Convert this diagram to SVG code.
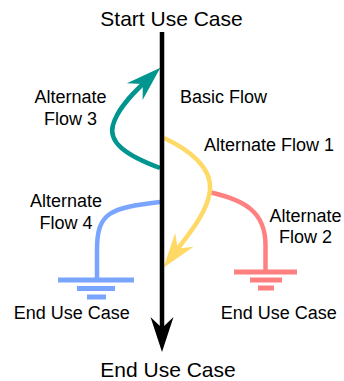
<svg xmlns="http://www.w3.org/2000/svg" width="344" height="381" viewBox="0 0 344 381">
<style>
text{font-family:"Liberation Sans",Arial,sans-serif;fill:#000}
.big{font-size:21px}
.sm{font-size:18px}
.c{fill:none;stroke-width:4.5}
</style>
<defs>
<marker id="ak" markerUnits="userSpaceOnUse" orient="auto" refX="0" refY="0" overflow="visible"><path d="M21,0 L-14,-11.5 L-3,0 L-14,11.5 Z" fill="#000"/></marker>
<marker id="at" markerUnits="userSpaceOnUse" orient="auto" refX="0" refY="0" overflow="visible"><path d="M21,0 L-14,-11.5 L-3,0 L-14,11.5 Z" fill="#00968F"/></marker>
<marker id="ay" markerUnits="userSpaceOnUse" orient="auto" refX="0" refY="0" overflow="visible"><path d="M21,0 L-14,-11.5 L-3,0 L-14,11.5 Z" fill="#FFD966"/></marker>
</defs>
<rect width="344" height="381" fill="#fff"/>
<g id="connectors">
<path class="c" stroke="#7AA5FF" d="M160,202 C 110,208 97,212 97,250 L97,280"/>
<path class="c" stroke="#FF8080" d="M209,192 C 245,200 265.5,212 265.5,245 L265.5,272"/>
<path class="c" stroke="#00968F" d="M160,168 C 125,155 108,142 113,125 C 117,110 130,96 145,82" marker-end="url(#at)"/>
<path class="c" stroke="#FFD966" d="M164,138 C 190,150 212,168 210,190 C 208,212 188,235 176,251" marker-end="url(#ay)"/>
<path class="c" stroke="#000" d="M162,32 L162,331" marker-end="url(#ak)"/>
</g>
<g id="start"><text class="big" x="171.5" y="25.5" text-anchor="middle">Start Use Case</text></g>
<g id="end"><text class="big" x="168" y="377" text-anchor="middle">End Use Case</text></g>
<g id="basic-label"><text class="sm" x="180" y="103">Basic Flow</text></g>
<g id="alt1-label"><text class="sm" x="204" y="151">Alternate Flow 1</text></g>
<g id="alt2-label"><text class="sm" text-anchor="middle"><tspan x="305.5" y="221.5">Alternate</tspan><tspan x="305.5" y="243.3">Flow 2</tspan></text></g>
<g id="alt3-label"><text class="sm" text-anchor="middle"><tspan x="70.5" y="103.3">Alternate</tspan><tspan x="70.5" y="124.8">Flow 3</tspan></text></g>
<g id="alt4-label"><text class="sm" text-anchor="middle"><tspan x="66" y="207.3">Alternate</tspan><tspan x="66" y="229.3">Flow 4</tspan></text></g>
<g id="end-left">
<rect x="58" y="277.5" width="76" height="5" fill="#7AA5FF"/>
<rect x="77" y="286" width="38" height="5" fill="#7AA5FF"/>
<rect x="87" y="294.5" width="19" height="5" fill="#7AA5FF"/>
<text class="sm" x="71.7" y="319.3" text-anchor="middle">End Use Case</text>
</g>
<g id="end-right">
<rect x="234" y="269.5" width="63" height="5" fill="#FF8080"/>
<rect x="250" y="277.5" width="32" height="5" fill="#FF8080"/>
<rect x="258" y="285.5" width="16" height="5" fill="#FF8080"/>
<text class="sm" x="278.7" y="319.3" text-anchor="middle">End Use Case</text>
</g>
</svg>
